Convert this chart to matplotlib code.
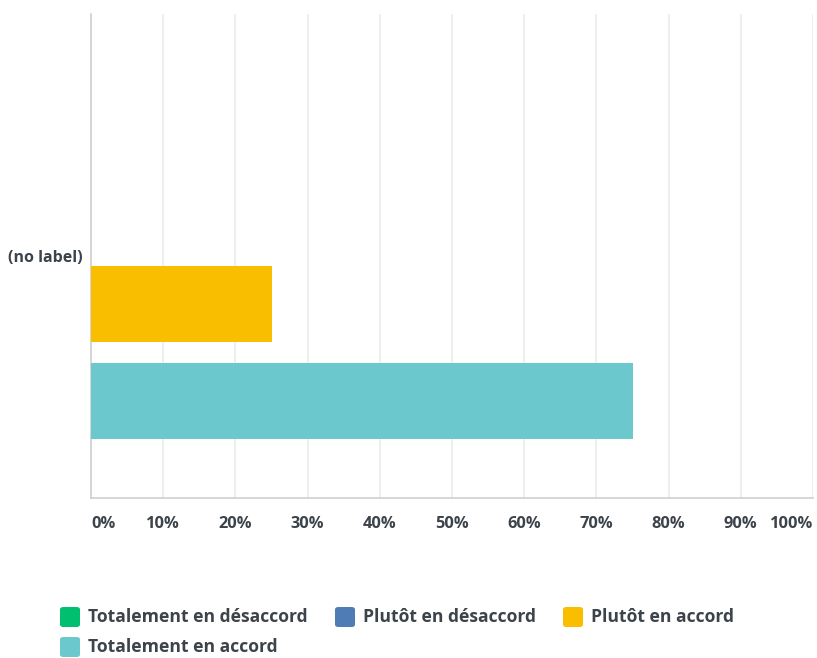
import matplotlib.pyplot as plt
from matplotlib.patches import FancyBboxPatch

categories = ['(no label)']
series = ['Totalement en désaccord', 'Plutôt en désaccord', 'Plutôt en accord', 'Totalement en accord']
values = [0, 0, 25, 75]
colours = ['#00bf6f', '#507cb6', '#f9be00', '#6bc8cd']
ticks = [0, 10, 20, 30, 40, 50, 60, 70, 80, 90, 100]
tick_labels = [f'{t}%' for t in ticks]

plt.rcParams['font.family'] = ['Open Sans', 'DejaVu Sans']
text_col = '#3c434a'

fig = plt.figure(figsize=(8.17, 6.58), dpi=100)
ax = fig.add_axes([91/817, 1-498/658, 722/817, 484/658])

bar_h = 0.2
step = 0.255
for i, (name, v, c) in enumerate(zip(series, values, colours)):
	y = (i - 1.5) * step
	ax.barh(y, v, height=bar_h, color=c, zorder=3)

ax.set_xlim(0, 100)
ax.set_ylim(0.637, -0.637)
ax.set_yticks([0])
ax.set_yticklabels(categories, fontsize=11.5, fontweight='bold', color=text_col)
ax.tick_params(axis='y', length=0, pad=6)

ax.set_xticks(ticks)
ax.set_xticklabels(tick_labels, fontsize=11.8, fontweight='bold', color=text_col)
ax.tick_params(axis='x', length=0, pad=13)
labels = ax.get_xticklabels()
labels[0].set_ha('left')
labels[-1].set_ha('right')

ax.grid(axis='x', color='#ebebeb', linewidth=1.2, zorder=0)
for s in ['top', 'right']:
	ax.spines[s].set_visible(False)
for s in ['left', 'bottom']:
	ax.spines[s].set_color('#cfcfcf')
	ax.spines[s].set_linewidth(1.2)

# legend drawn by hand: three on the first row, one on the second
legend_pos = [(60, 617), (335, 617), (563, 617), (60, 647)]
for (px, py), name, c in zip(legend_pos, series, colours):
	fig.patches.append(FancyBboxPatch((px/817, 1-(py+10)/658), 20/817, 20/658,
		boxstyle='round,pad=0,rounding_size=0.004', transform=fig.transFigure,
		facecolor=c, edgecolor='none'))
	fig.text((px+28)/817, 1-py/658, name, fontsize=12.6, fontweight='bold',
		color=text_col, va='center', ha='left')

plt.savefig('out.png', dpi=100)
